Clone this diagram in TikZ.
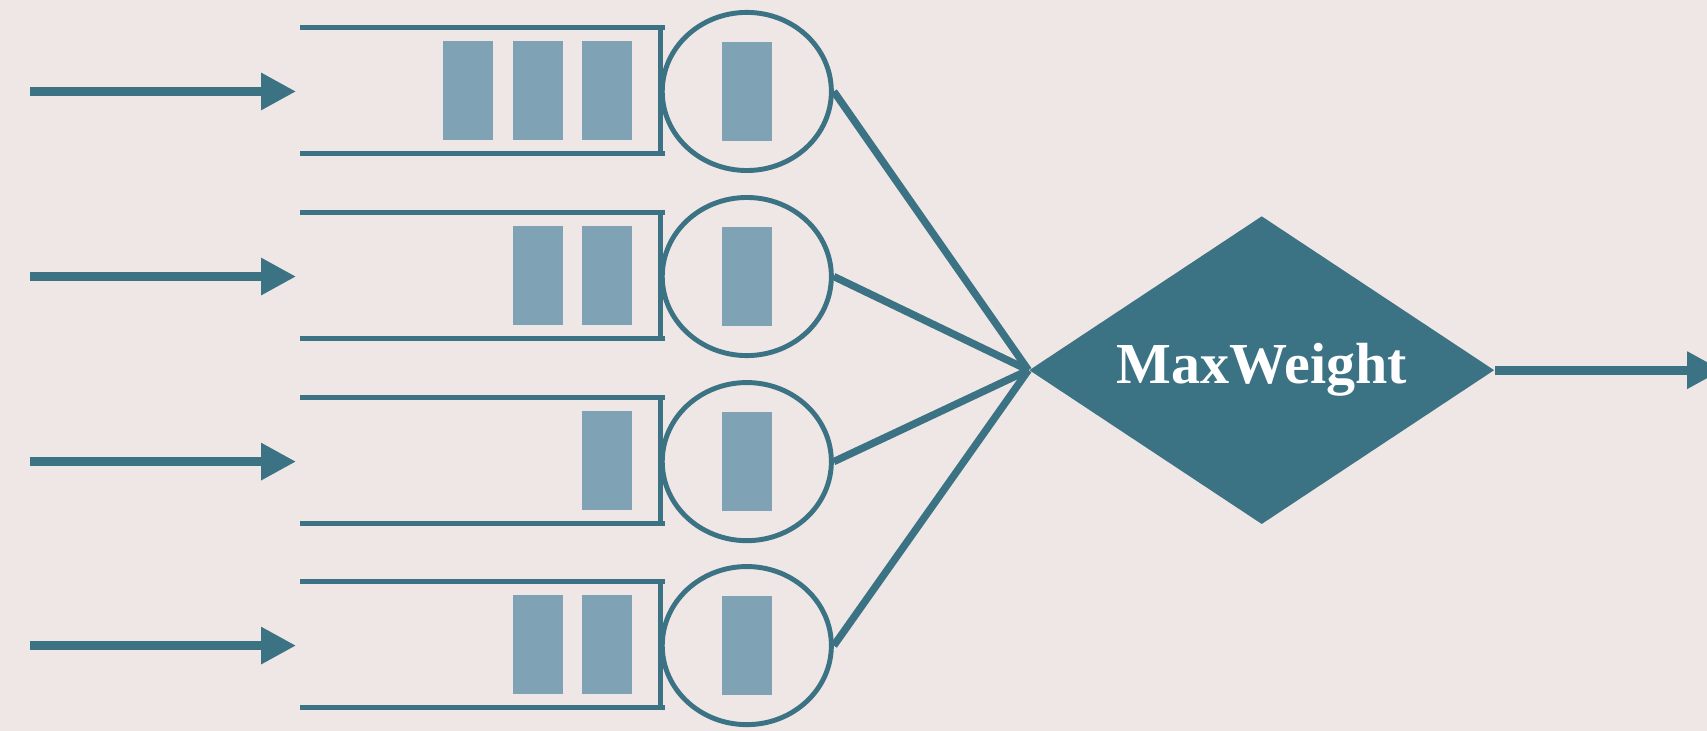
\documentclass[tikz,border=0pt]{standalone}
\usepackage{fontspec}
\usepackage{xcolor}
\usepackage{tikz}
\usetikzlibrary{shapes.geometric, arrows.meta, positioning}
\newfontfamily\mwfont{Liberation Serif}
\definecolor{bgcol}{HTML}{EFE7E5}
\definecolor{tealcol}{HTML}{3C7384}
\definecolor{pktcol}{HTML}{7FA2B5}

\begin{document}
\begin{tikzpicture}[x=0.010887cm, y=-0.010887cm,
  inarrow/.style={tealcol, line width=2.6pt, -{Triangle[length=0.35cm, width=0.35cm]}},
  queueline/.style={tealcol, line width=1.4pt},
  link/.style={tealcol, line width=2.1pt},
  packet/.style={rectangle, fill=pktcol, inner sep=0pt, minimum width=0.5cm, minimum height=0.99cm},
  server/.style={ellipse, draw=tealcol, line width=1.4pt, inner sep=0pt, minimum width=1.69cm, minimum height=1.58cm},
  mwbox/.style={diamond, fill=tealcol, inner sep=0pt, aspect=1.5, minimum width=4.65cm, minimum height=3.08cm, text=white, font=\mwfont\bfseries\fontsize{16.5}{18}\selectfont}]
  % Background
  \fill[bgcol] (0,0) rectangle (1568,671);
  \useasboundingbox (0,0) rectangle (1568,671);

  % Queues with arrivals and servers
  \foreach \row/\n [count=\i] in {84/3,254/2,424/1,593/2} {
    \coordinate (src\i) at (28,\row);
    \coordinate (tip\i) at (272,\row);
    \draw[inarrow] (src\i) -- (tip\i);
    \draw[queueline] (276,\row-59) -- (611,\row-59);
    \draw[queueline] (276,\row+57) -- (611,\row+57);
    \draw[queueline] (607,\row-59) -- (607,\row+57);
    \foreach \k in {1,...,\n}
      \node[packet] at (558-64*\k+64,\row-1) {};
    \node[server] (srv\i) at (686,\row) {};
    \node[packet] at (srv\i) {};
  }

  % Scheduler
  \node[mwbox] (mw) at (1159,340) {MaxWeight};
  \foreach \i in {1,...,4}
    \draw[link] (srv\i.east) -- (mw.west);

  % Departure
  \coordinate (sink) at (1582,340);
  \draw[inarrow] (mw.east) -- (sink);
\end{tikzpicture}
\end{document}
